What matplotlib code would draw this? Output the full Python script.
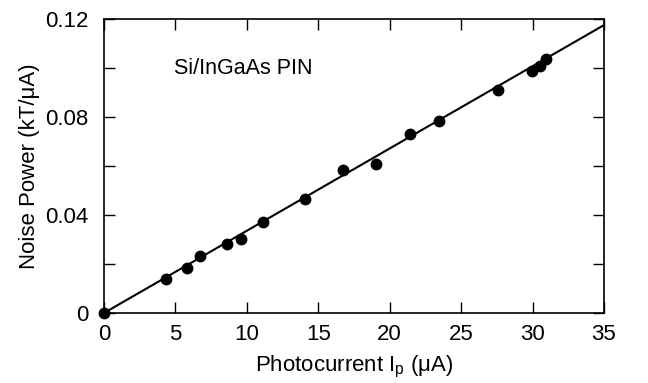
import matplotlib
matplotlib.use('Agg')
import matplotlib.pyplot as plt
import numpy as np

plt.rcParams['font.family'] = ['Liberation Sans', 'DejaVu Sans']
plt.rcParams['mathtext.fontset'] = 'custom'
plt.rcParams['mathtext.rm'] = 'Liberation Sans'

# measured points (photocurrent in uA, noise power in kT/uA)
photocurrent = [0.0, 4.32, 5.83, 6.74, 8.59, 9.59, 11.15, 14.05, 16.71,
                19.04, 21.44, 23.45, 27.6, 29.94, 30.52, 30.92]
noise_power = [0.0, 0.0139, 0.0184, 0.0233, 0.0280, 0.0302, 0.0371, 0.0464,
               0.0586, 0.0608, 0.0732, 0.0785, 0.0910, 0.0988, 0.1009, 0.1036]

# linear fit through origin
fit_slope = 0.00336
fit_x = [0, 35]

xticks = [0, 5, 10, 15, 20, 25, 30, 35]
yticks = [0, 0.04, 0.08, 0.12]
ytick_labels = ['0', '0.04', '0.08', '0.12']

fig = plt.figure(figsize=(6.48, 3.83), dpi=100)
ax = fig.add_axes([0.1605, 0.1828, 0.7715, 0.767])

ax.plot(fit_x, [fit_slope * x for x in fit_x], color='black', lw=1.5)
ax.plot(photocurrent, noise_power, 'o', color='black', markersize=7.5, clip_on=False, zorder=3)

ax.set_xlim(0, 35)
ax.set_ylim(0, 0.12)
ax.set_xticks(xticks)
ax.set_yticks(yticks)
ax.set_yticklabels(ytick_labels)
ax.set_yticks(np.arange(0.02, 0.12, 0.04), minor=True)
ax.tick_params(which='both', direction='in', top=True, right=True,
               labelsize=16, width=1)
ax.tick_params(axis='x', pad=8)
ax.tick_params(axis='y', pad=11)
ax.tick_params(which='major', length=8)
ax.tick_params(which='minor', length=8)
for s in ax.spines.values():
    s.set_linewidth(1.2)

ax.set_xlabel('Photocurrent I$_{\\mathregular{p}}$ (μA)', fontsize=16, labelpad=6)
ax.set_ylabel('Noise Power (kT/μA)', fontsize=16, labelpad=4)
ax.text(4.9, 0.100, 'Si/InGaAs PIN', fontsize=15.5, va='center')

fig.savefig('out.png', dpi=100)
